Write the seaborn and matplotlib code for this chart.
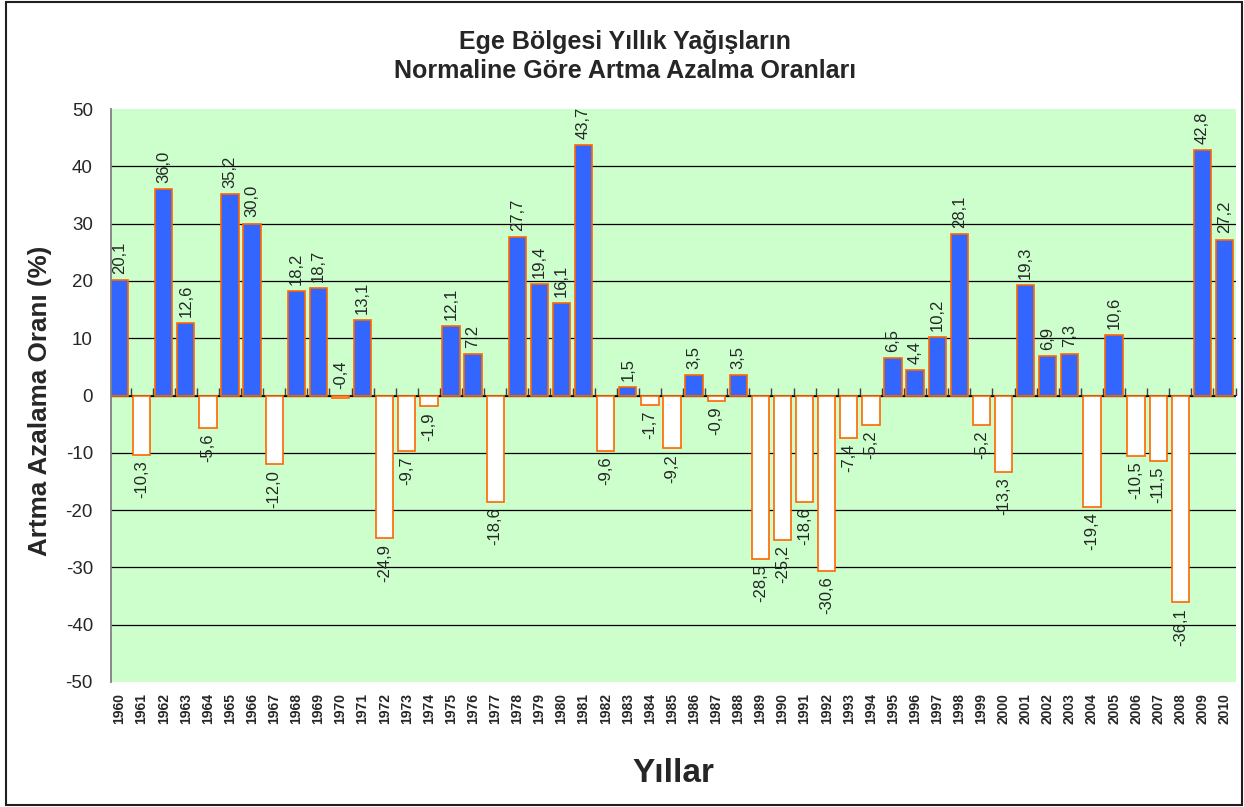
import matplotlib
matplotlib.use("Agg")
import matplotlib.pyplot as plt
from matplotlib.patches import Rectangle
import seaborn as sns
import pandas as pd

years = list(range(1960, 2011))
values = [20.1, -10.3, 36.0, 12.6, -5.6, 35.2, 30.0, -12.0, 18.2, 18.7,
          -0.4, 13.1, -24.9, -9.7, -1.9, 12.1, 7.2, -18.6, 27.7, 19.4,
          16.1, 43.7, -9.6, 1.5, -1.7, -9.2, 3.5, -0.9, 3.5, -28.5,
          -25.2, -18.6, -30.6, -7.4, -5.2, 6.5, 4.4, 10.2, 28.1, -5.2,
          -13.3, 19.3, 6.9, 7.3, -19.4, 10.6, -10.5, -11.5, -36.1, 42.8,
          27.2]
title_lines = ["Ege Bölgesi Yıllık Yağışların", "Normaline Göre Artma Azalma Oranları"]
ylabel = "Artma Azalama Oranı (%)"
xlabel = "Yıllar"
yticks = list(range(-50, 51, 10))

sns.set_style("white")
plt.rcParams["font.family"] = ["Liberation Sans", "DejaVu Sans"]
plt.rcParams["axes.unicode_minus"] = False

BLUE = "#3366FF"
ORANGE = "#FF6600"
GREEN = "#CCFFCC"

df = pd.DataFrame({"year": [str(y) for y in years], "value": values})
df["sign"] = ["pos" if v >= 0 else "neg" for v in values]

W, H = 1244, 807
fig = plt.figure(figsize=(W / 100, H / 100), dpi=100)
ax = fig.add_axes([111 / W, 1 - 682 / H, (1236 - 111) / W, (682 - 109) / H])
ax.set_facecolor(GREEN)

# horizontal gridlines behind the bars (none on the outer limits)
for t in yticks[1:-1]:
    ax.axhline(t, color="black", linewidth=0.9, zorder=0.5)

sns.barplot(data=df, x="year", y="value", hue="sign",
            palette={"pos": BLUE, "neg": "white"}, hue_order=["pos", "neg"],
            dodge=False, width=0.78, edgecolor=ORANGE, linewidth=1.2,
            saturation=1, legend=False, ax=ax)
for p in ax.patches:
    p.set_zorder(2)

ax.set_xlim(-0.385, 50.52)
ax.set_ylim(-50, 50)
ax.set_yticks(yticks)
ax.set_yticklabels([str(t) for t in yticks], fontsize=13.5)
ax.tick_params(axis="y", direction="out", length=6, width=1, color="#404040", pad=7)
ax.grid(False)

# year labels at the bottom of the plot area
ax.tick_params(axis="x", length=0, pad=8)
for lbl in ax.get_xticklabels():
    lbl.set_rotation(90)
    lbl.set_fontsize(10)
    lbl.set_fontweight("bold")
    lbl.set_va("top")

for s in ["top", "right", "bottom"]:
    ax.spines[s].set_visible(False)
ax.spines["left"].set_color("#808080")
ax.spines["left"].set_linewidth(1.3)

# zero axis line with category separator ticks
zero = ax.secondary_xaxis(0.5)
zero.set_xticks([i + 0.5 for i in range(-1, 51)])
zero.set_xticklabels([])
zero.tick_params(axis="x", direction="out", length=5, width=1, color="#404040")
zero.spines["bottom"].set_color("black")
zero.spines["bottom"].set_linewidth(1)

# value labels
for i, v in enumerate(values):
    txt = f"{v:.1f}".replace(".", ",")
    above = v > -0.5
    ax.annotate(txt, xy=(i, v if not above or v >= 0 else 0),
                xytext=(0, 4.5 if above else -4),
                textcoords="offset points", ha="center",
                va="bottom" if above else "top", rotation=90, fontsize=12,
                zorder=3)

ax.set_xlabel("")
ax.set_ylabel("")
fig.text(40 / W, 1 - 401 / H, ylabel, rotation=90, ha="center", va="center",
         fontsize=18.7, fontweight="bold")
fig.text(673 / W, 1 - 774 / H, xlabel, ha="center", va="center",
         fontsize=24, fontweight="bold")
fig.text(625 / W, 1 - 42 / H, title_lines[0], ha="center", va="center",
         fontsize=18, fontweight="bold")
fig.text(625 / W, 1 - 71 / H, title_lines[1], ha="center", va="center",
         fontsize=18, fontweight="bold")

fig.patches.append(Rectangle((6 / W, 1 - 805 / H), (1242 - 6) / W, (805 - 2) / H,
                             transform=fig.transFigure, fill=False,
                             edgecolor="#202020", linewidth=1.5))

fig.savefig("out.png", dpi=100)
